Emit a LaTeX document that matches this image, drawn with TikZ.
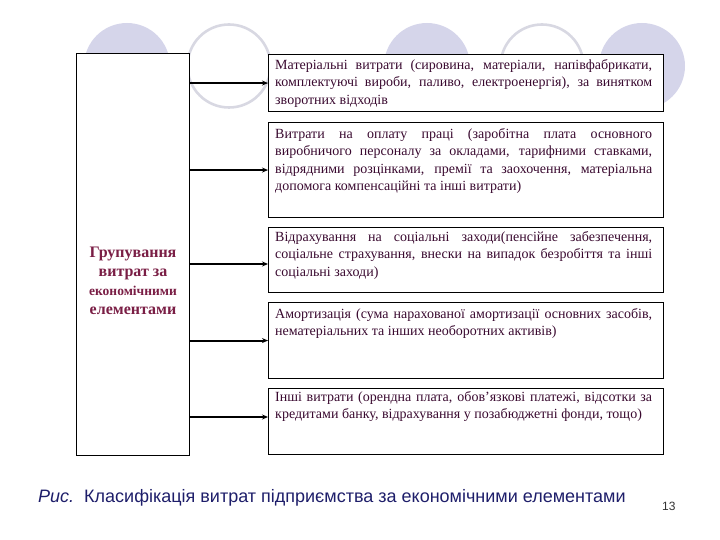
\documentclass[tikz,border=0pt]{standalone}
\usepackage{fontspec}
\setmainfont{Liberation Serif}
\newfontfamily\capfont{Liberation Sans}
\usetikzlibrary{arrows.meta}
\definecolor{circfill}{HTML}{D5D5EA}
\definecolor{circline}{HTML}{D8D8E2}
\definecolor{textc}{HTML}{3A0A30}
\definecolor{leftc}{HTML}{7A1E45}
\definecolor{capc}{HTML}{1E1E6A}
\hyphenpenalty=10000
\exhyphenpenalty=10000
\begin{document}
\begin{tikzpicture}[x=1pt,y=-1pt,
  box/.style={draw=black, line width=1.1pt, fill=white, anchor=north west, inner sep=0pt},
  txt/.style={anchor=north west, text width=377pt, inner sep=0pt, font=\fontsize{14}{17.5}\selectfont, text=textc, align=justify},
  arr/.style={-{Stealth[length=6pt,width=5pt]}, line width=2pt},
  fcirc/.style={fill=circfill},
  ocirc/.style={draw=circline, line width=2.6pt}]
\useasboundingbox (0,0) rectangle (720,540);
% decorative circles
\fill[fcirc] (127,66) circle (43);
\draw[ocirc] (229,66) circle (41.5);
\fill[fcirc] (427,66) circle (43);
\draw[ocirc] (542,66) circle (41.5);
\fill[fcirc] (642,66) circle (43);
% left box
\node[box, minimum width=113pt, minimum height=402pt] (lb) at (76,53) {};
\node[align=center, text=leftc, inner sep=0pt, font=\fontsize{16}{19}\selectfont\bfseries] (lt) at (133,281)
  {Групування\\ витрат за\\ {\fontsize{13.5}{19}\selectfont економічними}\\ елементами};
% right boxes
\node[box, minimum width=395pt, minimum height=57pt] (b1) at (268,54) {};
\node[box, minimum width=395pt, minimum height=95pt] (b2) at (268,122) {};
\node[box, minimum width=395pt, minimum height=65pt] (b3) at (268,227) {};
\node[box, minimum width=395pt, minimum height=76pt] (b4) at (268,302) {};
\node[box, minimum width=395pt, minimum height=66pt] (b5) at (268,388) {};
\node[txt] (t1) at (275,59) {Матеріальні витрати (сировина, матеріали, напівфабрикати,\linebreak комплектуючі вироби, паливо, електроенергія), за винятком\linebreak зворотних відходів};
\node[txt] (t2) at (275,128) {Витрати на оплату праці (заробітна плата основного\linebreak виробничого персоналу за окладами, тарифними ставками,\linebreak відрядними розцінками, премії та заохочення, матеріальна\linebreak допомога компенсаційні та інші витрати)};
\node[txt] (t3) at (275,231) {Відрахування на соціальні заходи(пенсійне забезпечення,\linebreak соціальне страхування, внески на випадок безробіття та інші\linebreak соціальні заходи)};
\node[txt] (t4) at (275,308) {Амортизація (сума нарахованої амортизації основних засобів,\linebreak нематеріальних та інших необоротних активів)};
\node[txt] (t5) at (275,391) {Інші витрати (орендна плата, обов'язкові платежі, відсотки за\linebreak кредитами банку, відрахування у позабюджетні фонди, тощо)};
% arrows
\draw[arr] (lb.east |- b1.west) -- (b1.west);
\draw[arr] (lb.east |- b2.west) -- (b2.west);
\draw[arr] (lb.east |- 0,264) -- (b3.west |- 0,264);
\draw[arr] (lb.east |- b4.west) -- (b4.west);
\draw[arr] (lb.east |- 0,417) -- (b5.west |- 0,417);
% caption
\node[anchor=base west, inner sep=0pt, text=capc, font=\capfont\fontsize{18}{21}\selectfont] (cap) at (38,502)
  {\textit{Рис.}\ \ Класифікація витрат підприємства за економічними елементами};
\node[anchor=base west, inner sep=0pt, text=black!80, font=\capfont\fontsize{12}{14}\selectfont] (pg) at (662,510) {13};
\end{tikzpicture}
\end{document}
